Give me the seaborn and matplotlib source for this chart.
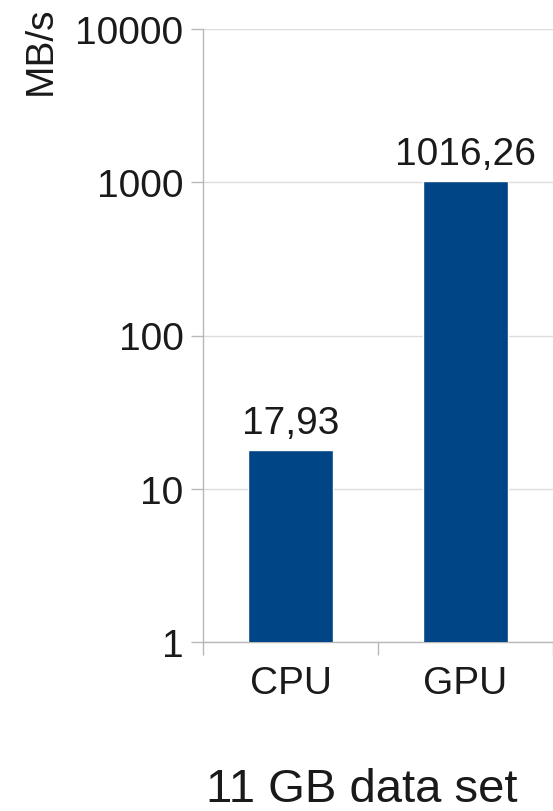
import matplotlib
matplotlib.use("Agg")
import matplotlib.pyplot as plt
import matplotlib.ticker as mticker
import seaborn as sns

# Throughput on the 11 GB data set (MB/s, log scale)
categories = ["CPU", "GPU"]
throughput = [17.93, 1016.26]
value_labels = ["17,93", "1016,26"]
y_ticks = [1, 10, 100, 1000, 10000]
y_tick_labels = ["1", "10", "100", "1000", "10000"]

sns.set_theme(style="white")
plt.rcParams["font.family"] = ["Liberation Sans", "DejaVu Sans"]

W, H, DPI = 553, 812, 100
fig = plt.figure(figsize=(W / DPI, H / DPI), dpi=DPI)
ax = fig.add_axes([203 / W, 1 - 643 / H, 1 - 203 / W, (643 - 30) / H])

ax.set_yscale("log")
sns.barplot(x=categories, y=throughput, color="#004586", saturation=1,
            width=0.49, ax=ax, zorder=3)
ax.set_ylim(1, 10000)
ax.set_xlim(-0.5, 1.477)

# value labels above the bars
ax.bar_label(ax.containers[0], labels=value_labels, padding=6.5,
             fontsize=28, color="#1a1a1a")

# y axis: decades with plain numbers
ax.yaxis.set_major_locator(mticker.FixedLocator(y_ticks))
ax.yaxis.set_major_formatter(mticker.FixedFormatter(y_tick_labels))
ax.yaxis.set_minor_locator(mticker.NullLocator())
ax.tick_params(axis="y", which="major", direction="out", length=9, width=1,
               color="#b8b8b8", pad=5, labelsize=28, labelcolor="#1a1a1a",
               left=True)

# x axis: labels at the centres, tick marks at the category boundaries
ax.set_xticks([0, 1])
ax.set_xticklabels(categories)
ax.set_xticks([-0.5, 0.5, 1.5], minor=True)
ax.tick_params(axis="x", which="major", length=0, pad=16.5, labelsize=28,
               labelcolor="#1a1a1a")
ax.tick_params(axis="x", which="minor", direction="out", length=9, width=1,
               color="#b8b8b8", bottom=True)

ax.grid(axis="y", which="major", color="#dcdcdc", linewidth=1, zorder=0)
ax.grid(axis="x", visible=False)
for side in ("top", "right"):
    ax.spines[side].set_visible(False)
for side in ("left", "bottom"):
    ax.spines[side].set_color("#b8b8b8")
    ax.spines[side].set_linewidth(1)

ax.set_ylabel("MB/s", fontsize=28, color="#1a1a1a")
ax.yaxis.set_label_coords(41 / W, 1 - 51 / H, transform=fig.transFigure)
ax.yaxis.label.set_va("center")

ax.set_xlabel("11 GB data set", fontsize=34, color="#1a1a1a")
ax.xaxis.set_label_coords(362 / W, 1 - 802 / H, transform=fig.transFigure)
ax.xaxis.label.set_va("baseline")

fig.savefig("out.png", dpi=DPI, facecolor="white")
